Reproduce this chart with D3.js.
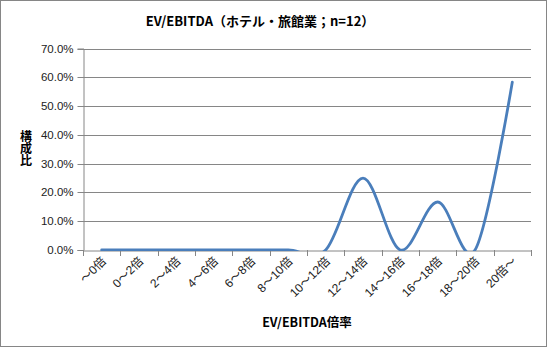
<!DOCTYPE html>
<html><head><meta charset="utf-8">
<script src="https://cdn.jsdelivr.net/npm/d3@7/dist/d3.min.js"></script>
<style>
body{margin:0;background:#fff;}
svg{display:block;}
</style></head>
<body>
<svg id="chart" width="547" height="347"></svg>
<script>
const categories = ["～0倍","0～2倍","2～4倍","4～6倍","6～8倍","8～10倍","10～12倍","12～14倍","14～16倍","16～18倍","18～20倍","20倍～"];
const values = [0,0,0,0,0,0,0,0.25,0,0.1667,0,0.5833];
const yTicks = [0,0.1,0.2,0.3,0.4,0.5,0.6,0.7];
const titleText = "EV/EBITDA（ホテル・旅館業；n=12）";
const yTitle = "構成比";
const xTitle = "EV/EBITDA倍率";

const svg = d3.select("#chart");
const W = 547, H = 347;
const m = {left:83, right:531, top:48.5, bottom:250};
const font = "'Liberation Sans','Noto Sans CJK JP',sans-serif";
const jfont = "'Noto Sans CJK JP',sans-serif";

svg.append("rect").attr("x",0.5).attr("y",0.5).attr("width",W-1).attr("height",H-1)
  .attr("fill","#fff").attr("stroke","#868686");

const x = d3.scaleBand().domain(categories).range([m.left,m.right]).padding(0);
const y = d3.scaleLinear().domain([0,0.7]).range([m.bottom,m.top]);

// gridlines
svg.append("g").selectAll("line").data(yTicks.slice(1)).join("line")
  .attr("x1",m.left-5).attr("x2",m.right)
  .attr("y1",d=>Math.round(y(d))+0.5).attr("y2",d=>Math.round(y(d))+0.5)
  .attr("stroke","#868686").attr("stroke-width",1);

// y axis
const yAxis = svg.append("g").attr("transform",`translate(${m.left+0.5},0)`)
  .call(d3.axisLeft(y).tickValues(yTicks).tickFormat(d3.format(".1%")).tickSize(6).tickPadding(4));
yAxis.select(".domain").attr("stroke","#868686");
yAxis.selectAll(".tick line").attr("stroke","#868686");
yAxis.selectAll(".tick").attr("transform",d=>`translate(0,${Math.round(y(d))+0.5})`);
yAxis.selectAll("text").attr("font-family",font).attr("font-size",11.5).attr("fill","#222");

// x axis
const xAxis = svg.append("g").attr("transform",`translate(0,${m.bottom+0.5})`)
  .call(d3.axisBottom(x).tickSize(0).tickFormat(""));
xAxis.select(".domain").attr("stroke","#868686");
xAxis.selectAll(".tick line").remove();
svg.append("g").selectAll("line").data(d3.range(categories.length+1)).join("line")
  .attr("x1",i=>Math.round(m.left+i*x.step())+0.5).attr("x2",i=>Math.round(m.left+i*x.step())+0.5)
  .attr("y1",m.bottom).attr("y2",m.bottom+6).attr("stroke","#868686");

svg.append("g").selectAll("text").data(categories).join("text")
  .attr("transform",d=>`translate(${x(d)+x.bandwidth()/2+5},${m.bottom+12}) rotate(-45)`)
  .attr("text-anchor","end").attr("font-family",font).attr("font-size",12).attr("fill","#222")
  .text(d=>d);

// line
svg.append("clipPath").attr("id","clip").append("rect")
  .attr("x",m.left).attr("y",0).attr("width",m.right-m.left).attr("height",m.bottom+1);
const line = d3.line().x((d,i)=>x(categories[i])+x.bandwidth()/2).y(d=>y(d)).curve(d3.curveCardinal.tension(0));
svg.append("path").datum(values).attr("d",line).attr("clip-path","url(#clip)")
  .attr("fill","none").attr("stroke","#4a7ebb").attr("stroke-width",2.8).attr("stroke-linecap","round");

// titles
svg.append("text").attr("x",260).attr("y",26).attr("text-anchor","middle")
  .attr("font-family",jfont).attr("font-weight","bold").attr("font-size",13).attr("fill","#000").text(titleText);
svg.append("text").attr("x",26).attr("y",130)
  .style("writing-mode","vertical-rl")
  .attr("font-family",jfont).attr("font-weight","bold").attr("font-size",12).attr("fill","#000").text(yTitle);
svg.append("text").attr("x",307).attr("y",327).attr("text-anchor","middle")
  .attr("font-family",jfont).attr("font-weight","bold").attr("font-size",12.5).attr("fill","#000").text(xTitle);
</script>
</body></html>
